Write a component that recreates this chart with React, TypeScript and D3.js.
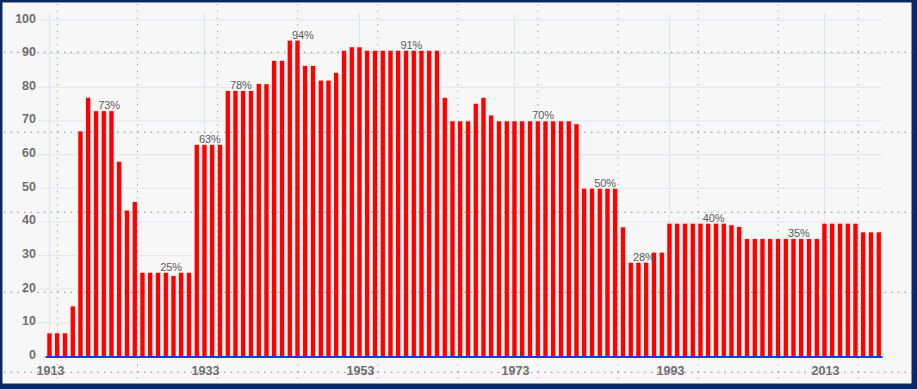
import React from "react";
import * as d3 from "d3";

const years: number[] = d3.range(1913, 2021);
const rates: number[] = [
  7, 7, 7, 15,
  67, 77, 73, 73, 73, 58, 43.5, 46,
  25, 25, 25, 25, 24, 25, 25,
  63, 63, 63, 63,
  79, 79, 79, 79,
  81.1, 81,
  88, 88,
  94, 94,
  86.45, 86.45,
  82.13, 82.13,
  84.36,
  91,
  92, 92,
  91, 91, 91, 91, 91, 91, 91, 91, 91, 91,
  77,
  70, 70, 70,
  75.25,
  77,
  71.75,
  70, 70, 70, 70, 70, 70, 70, 70, 70, 70,
  69.13,
  50, 50, 50, 50, 50,
  38.5,
  28, 28, 28,
  31, 31,
  39.6, 39.6, 39.6, 39.6, 39.6, 39.6, 39.6, 39.6,
  39.1,
  38.6,
  35, 35, 35, 35, 35, 35, 35, 35, 35, 35,
  39.6, 39.6, 39.6, 39.6, 39.6,
  37, 37, 37,
];
const labelYears: number[] = [1920, 1928, 1933, 1937, 1945, 1959, 1976, 1984, 1989, 1998, 2009];
const labelTexts: string[] = ["73%", "25%", "63%", "78%", "94%", "91%", "70%", "50%", "28%", "40%", "35%"];
const yTicks: number[] = [0, 10, 20, 30, 40, 50, 60, 70, 80, 90, 100];
const xTickYears: number[] = [1913, 1933, 1953, 1973, 1993, 2013];

const W = 917;
const H = 389;

export default function App() {
  const x = d3
    .scaleBand<number>()
    .domain(years)
    .range([45.6, 882.6])
    .paddingInner(0.35)
    .paddingOuter(0.175);
  const y = d3.scaleLinear().domain([0, 100]).range([356.5, 20]);
  const step = x.step();
  const cx = (yr: number) => (x(yr) as number) + x.bandwidth() / 2;
  const rateOf = (yr: number) => rates[years.indexOf(yr)];

  const dotH = d3.range(0, 5).map((k) => 52.3 + 80 * k);
  const dotV = d3.range(0, 11).map((k) => 57.4 + 80.08 * k);

  return (
    <svg
      width={W}
      height={H}
      style={{ position: "absolute", left: 0, top: 0, display: "block" }}
      fontFamily="'Liberation Sans', Arial, sans-serif"
    >
      <rect x={0} y={0} width={W} height={H} fill="#0c2766" />
      <rect x={3} y={3} width={908} height={380} fill="#f7f7f7" stroke="#ffffff" strokeWidth={1} />

      {/* light gridlines */}
      {yTicks.map((t) => (
        <line key={"gh" + t} x1={38} x2={882} y1={y(t)} y2={y(t)} stroke="#e4e6ec" strokeWidth={1} />
      ))}
      {xTickYears.map((yr) => (
        <line key={"gv" + yr} x1={cx(yr)} x2={cx(yr)} y1={13} y2={356} stroke="#dfe4f0" strokeWidth={1} />
      ))}

      {/* bars */}
      {years.map((yr, i) => (
        <rect
          key={yr}
          x={x(yr) as number}
          y={y(rates[i])}
          width={x.bandwidth()}
          height={y(0) - y(rates[i])}
          fill="#ff0000"
          stroke="#ffffff"
          strokeWidth={0.6}
        />
      ))}

      {/* baseline */}
      <line x1={45.6} x2={882.6} y1={y(0) + 0.5} y2={y(0) + 0.5} stroke="#1f35f0" strokeWidth={2} />

      {/* value labels */}
      {labelYears.map((yr, i) => (
        <text
          key={"l" + yr}
          x={cx(yr) + 0.7 * step}
          y={y(rateOf(yr)) - 1.5}
          textAnchor="middle"
          fontSize={11}
          fill="#5a5a5a"
        >
          {labelTexts[i]}
        </text>
      ))}

      {/* y axis labels */}
      {yTicks.map((t) => (
        <text
          key={"yt" + t}
          x={36}
          y={y(t) + 2.5}
          textAnchor="end"
          fontSize={12.5}
          fontWeight="bold"
          fill="#6e6e6e"
        >
          {t}
        </text>
      ))}

      {/* x axis labels */}
      {xTickYears.map((yr) => (
        <text
          key={"xt" + yr}
          x={cx(yr) + 1}
          y={374.5}
          textAnchor="middle"
          fontSize={12.5}
          fontWeight="bold"
          fill="#6e6e6e"
        >
          {yr}
        </text>
      ))}

      {/* dotted overlay grid */}
      {dotH.map((v) => (
        <line
          key={"dh" + v}
          x1={4}
          x2={913}
          y1={v}
          y2={v}
          stroke="#606060"
          strokeWidth={1}
          strokeDasharray="1.4 5.27"
          opacity={0.75}
        />
      ))}
      {dotV.map((v) => (
        <line
          key={"dv" + v}
          x1={v}
          x2={v}
          y1={4}
          y2={383}
          stroke="#707070"
          strokeWidth={1}
          strokeDasharray="1.4 5.27"
          opacity={0.6}
        />
      ))}
    </svg>
  );
}
